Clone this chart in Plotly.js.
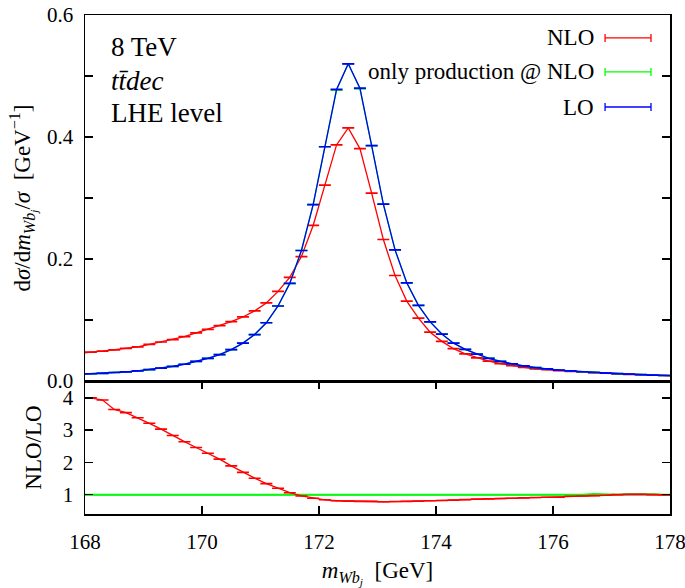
<!DOCTYPE html>
<html>
<head>
<meta charset="utf-8">
<script src="https://cdn.plot.ly/plotly-3.0.1.min.js"></script>
<style>html,body{margin:0;padding:0;background:#fff;}#chart{width:685px;height:588px;}</style>
</head>
<body>
<div id="chart"></div>
<script>
// bin centres [GeV]
const binCenters = [168.1,168.3,168.5,168.7,168.9,169.1,169.3,169.5,169.7,169.9,
  170.1,170.3,170.5,170.7,170.9,171.1,171.3,171.5,171.7,171.9,
  172.1,172.3,172.5,172.7,172.9,173.1,173.3,173.5,173.7,173.9,
  174.1,174.3,174.5,174.7,174.9,175.1,175.3,175.5,175.7,175.9,
  176.1,176.3,176.5,176.7,176.9,177.1,177.3,177.5,177.7,177.9];
const edgesX = [168, 178];

// normalised distributions
const nlo = [0.0475,0.049,0.051,0.0536,0.056,0.060,0.064,0.068,0.0727,0.079,
  0.0847,0.0907,0.0973,0.105,0.115,0.128,0.147,0.170,0.204,0.255,
  0.321,0.387,0.415,0.381,0.308,0.232,0.173,0.131,0.103,0.080,
  0.065,0.053,0.0445,0.038,0.0325,0.0285,0.025,0.0225,0.020,0.0185,
  0.017,0.0158,0.0146,0.0136,0.0127,0.0118,0.011,0.0103,0.0096,0.009];
const prodNLO = [0.0119,0.0124,0.0140,0.0151,0.0166,0.0187,0.0211,0.0238,0.0275,0.0321,
  0.0371,0.0432,0.0515,0.0621,0.0762,0.0955,0.123,0.160,0.214,0.289,
  0.384,0.477,0.520,0.479,0.386,0.290,0.215,0.161,0.124,0.097,
  0.077,0.062,0.052,0.044,0.0374,0.0322,0.0280,0.0248,0.0221,0.0198,
  0.0180,0.0165,0.0152,0.0143,0.0130,0.0120,0.0112,0.0106,0.0098,0.0090];
const lo = [0.0119,0.0125,0.0140,0.0151,0.0166,0.0187,0.0211,0.0240,0.0275,0.0321,
  0.0371,0.0432,0.0515,0.0621,0.0762,0.0955,0.123,0.160,0.214,0.289,
  0.384,0.478,0.520,0.480,0.386,0.290,0.215,0.161,0.124,0.097,
  0.077,0.062,0.052,0.044,0.037,0.0322,0.0280,0.0248,0.0221,0.0198,
  0.0180,0.0165,0.0152,0.0140,0.0130,0.0120,0.0112,0.0104,0.0097,0.0090];
// values at the plot edges (168 and 178 GeV)
const nloEdge = [0.046, 0.0088];
const prodEdge = [0.0115, 0.0087];
const loEdge = [0.0115, 0.0087];

// ratios to LO
const ratioNLO = [4.00,3.93,3.64,3.54,3.38,3.21,3.03,2.83,2.64,2.46,
  2.28,2.10,1.89,1.69,1.51,1.34,1.20,1.06,0.96,0.89,
  0.84,0.81,0.80,0.79,0.79,0.78,0.785,0.79,0.80,0.81,
  0.82,0.83,0.845,0.86,0.87,0.88,0.89,0.90,0.91,0.92,
  0.92,0.95,0.96,0.97,0.98,1.00,1.01,1.01,1.00,0.99];
const ratioProd = [1.00,0.99,1.00,1.00,1.00,1.00,1.00,0.99,1.00,1.00,
  1.00,1.00,1.00,1.00,1.00,1.00,1.00,1.00,1.00,1.00,
  1.00,1.00,1.00,1.00,1.00,1.00,1.00,1.00,1.00,1.00,
  1.00,1.00,1.00,1.00,1.01,1.00,1.00,1.00,1.00,1.00,
  1.00,1.00,1.00,1.02,1.00,1.00,1.01,1.02,1.01,1.00];
const ratioNLOEdge = [4.00, 0.99];
const ratioProdEdge = [1.00, 1.00];
const ratioLO = [1.00, 1.00];

const seriesNames = ['NLO', 'only production @ NLO', 'LO'];
const colors = ['#ff0000', '#00ff00', '#0000ff'];

function withEdges(vals, edge) { return [edge[0]].concat(vals, [edge[1]]); }
const xLine = withEdges(binCenters, edgesX);

function lineTrace(x, y, color, xa, ya, w) {
  return {x: x, y: y, xaxis: xa, yaxis: ya, mode: 'lines', type: 'scatter',
    line: {color: color, width: w || 1.3}, showlegend: false, hoverinfo: 'skip'};
}
function errTrace(x, y, color, xa, ya, err) {
  return {x: x, y: y, xaxis: xa, yaxis: ya, mode: 'markers', type: 'scatter',
    marker: {color: color, size: 1}, showlegend: false, hoverinfo: 'skip',
    error_y: {type: 'constant', value: err, color: color, thickness: 1.2, width: 6}};
}

const traces = [
  lineTrace(xLine, withEdges(nlo, nloEdge), colors[0], 'x2', 'y2'),
  errTrace(binCenters, nlo, colors[0], 'x2', 'y2', 0.0004),
  lineTrace(xLine, withEdges(prodNLO, prodEdge), colors[1], 'x2', 'y2'),
  errTrace(binCenters, prodNLO, colors[1], 'x2', 'y2', 0.0004),
  lineTrace(xLine, withEdges(lo, loEdge), colors[2], 'x2', 'y2'),
  errTrace(binCenters, lo, colors[2], 'x2', 'y2', 0.0004),
  lineTrace(edgesX, ratioLO, colors[2], 'x', 'y'),
  lineTrace(xLine, withEdges(ratioProd, ratioProdEdge), colors[1], 'x', 'y', 2),
  lineTrace(xLine, withEdges(ratioNLO, ratioNLOEdge), colors[0], 'x', 'y'),
  errTrace(binCenters, ratioNLO, colors[0], 'x', 'y', 0.006)
];

const FONT = 'Liberation Serif, Times New Roman, serif';
const split = 0.2665;
const axisCommon = {showline: true, linecolor: '#000', linewidth: 1.5, mirror: 'allticks',
  ticks: 'inside', ticklen: 8, tickwidth: 1.5, tickcolor: '#000', showgrid: false,
  zeroline: false, tickfont: {family: FONT, size: 21, color: '#000'}};

// legend samples drawn as shapes in paper coordinates
const legY = [0.954, 0.886, 0.8156];
const legX0 = 0.889, legX1 = 0.9675, legH = 0.008;
const shapes = [];
const annotations = [];
seriesNames.forEach((name, i) => {
  shapes.push({type: 'line', xref: 'paper', yref: 'paper', x0: legX0, x1: legX1, y0: legY[i], y1: legY[i], line: {color: colors[i], width: 1.3}});
  shapes.push({type: 'line', xref: 'paper', yref: 'paper', x0: legX0, x1: legX0, y0: legY[i] - legH, y1: legY[i] + legH, line: {color: colors[i], width: 1.3}});
  shapes.push({type: 'line', xref: 'paper', yref: 'paper', x0: legX1, x1: legX1, y0: legY[i] - legH, y1: legY[i] + legH, line: {color: colors[i], width: 1.3}});
  annotations.push({text: name, xref: 'paper', yref: 'paper', x: 0.874, y: legY[i], xanchor: 'right', yanchor: 'middle', showarrow: false, font: {family: FONT, size: 23, color: '#000'}});
});
annotations.push({text: '8 TeV', xref: 'paper', yref: 'paper', x: 0.041, y: 0.936, xanchor: 'left', yanchor: 'middle', showarrow: false, font: {family: FONT, size: 27, color: '#000'}});
annotations.push({text: '<i>tt\u0304dec</i>', xref: 'paper', yref: 'paper', x: 0.041, y: 0.868, xanchor: 'left', yanchor: 'middle', showarrow: false, font: {family: FONT, size: 27, color: '#000'}});
annotations.push({text: 'LHE level', xref: 'paper', yref: 'paper', x: 0.041, y: 0.804, xanchor: 'left', yanchor: 'middle', showarrow: false, font: {family: FONT, size: 27, color: '#000'}});

const layout = {
  width: 685, height: 588,
  margin: {l: 85, r: 15, t: 15, b: 74, pad: 0},
  paper_bgcolor: '#fff', plot_bgcolor: '#fff',
  font: {family: FONT, color: '#000'},
  showlegend: false,
  xaxis: Object.assign({}, axisCommon, {domain: [0, 1], anchor: 'y', range: [168, 178],
    tickvals: [168, 170, 172, 174, 176, 178], ticklabelstandoff: 8, ticklabeloverflow: 'allow',
    title: {text: '<i>m</i><sub><i>Wb</i><sub><i>j</i></sub></sub>  [GeV]', font: {family: FONT, size: 23, color: '#000'}, standoff: 10}}),
  xaxis2: {domain: [0, 1], anchor: 'y2', range: [168, 178], matches: 'x', showline: true, linecolor: '#000', linewidth: 1.5,
    mirror: true, ticks: '', showticklabels: false, showgrid: false, zeroline: false},
  yaxis: Object.assign({}, axisCommon, {domain: [0, split], anchor: 'x', range: [0.4, 4.52],
    tickvals: [1, 2, 3, 4], ticklabelstandoff: 6,
    title: {text: 'NLO/LO', font: {family: FONT, size: 23, color: '#000'}, standoff: 14}}),
  yaxis2: Object.assign({}, axisCommon, {domain: [split, 1], anchor: 'x2', range: [0, 0.6],
    tickvals: [0, 0.2, 0.4, 0.6], tickformat: '.1f', ticklabelstandoff: 6,
    minor: {tickvals: [0.1, 0.3, 0.5], ticks: 'inside', ticklen: 8, tickwidth: 1.5, tickcolor: '#000'},
    title: {text: 'd<i>σ</i>/d<i>m</i><sub><i>Wb</i><sub><i>j</i></sub></sub>/<i>σ</i>  [GeV<sup>−1</sup>]', font: {family: FONT, size: 23, color: '#000'}, standoff: 10}}),
  shapes: shapes,
  annotations: annotations
};

Plotly.newPlot('chart', traces, layout, {displayModeBar: false, staticPlot: true});
</script>
</body>
</html>
